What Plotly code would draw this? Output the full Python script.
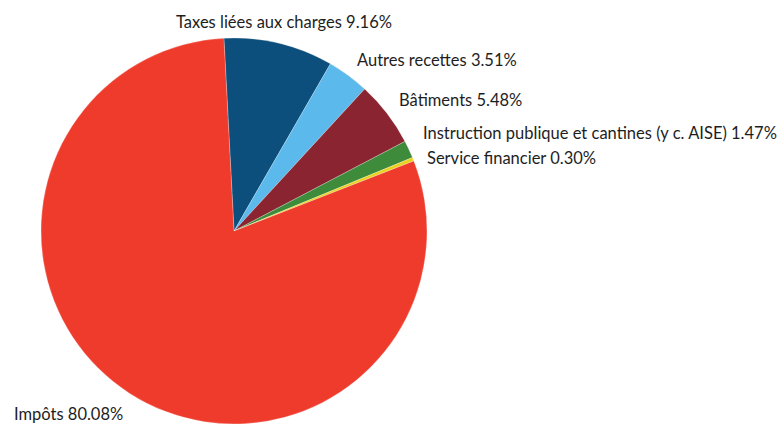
import plotly.graph_objects as go

labels = ["Taxes liées aux charges", "Autres recettes", "Bâtiments",
          "Instruction publique et cantines (y c. AISE)", "Service financier", "Impôts"]
values = [9.16, 3.51, 5.48, 1.47, 0.30, 80.08]
colors = ["#0d4f7c", "#5cb9ec", "#8a2431", "#3d8b3b", "#e9d21f", "#ef3b2b"]

# label anchor positions (pixels, left edge / vertical centre)
label_px = [(174, 22), (355, 60), (397, 100), (421, 133), (425, 158), (12, 414)]

W, H = 783, 425
fig = go.Figure(go.Pie(
    labels=labels, values=values, sort=False, direction="clockwise", rotation=-3,
    marker=dict(colors=colors, line=dict(color="rgba(255,255,255,0.4)", width=0.6)),
    textinfo="none", hoverinfo="label+percent", showlegend=False,
    domain=dict(x=[41 / W, 427 / W], y=[1 - 424 / H, 1 - 38 / H]),
))

for lab, val, (px, py) in zip(labels, values, label_px):
    fig.add_annotation(
        text=f"{lab} {val:.2f}%", x=px / W, y=1 - py / H, xref="paper", yref="paper",
        xanchor="left", yanchor="middle", showarrow=False,
        font=dict(family="Lato", size=16.5, color="#1e1e1e"),
    )

fig.update_layout(width=W, height=H, margin=dict(l=0, r=0, t=0, b=0),
                  paper_bgcolor="white", plot_bgcolor="white")
fig.write_html("out.html", config={"displayModeBar": False},
               post_script="document.body.style.margin='0';")
